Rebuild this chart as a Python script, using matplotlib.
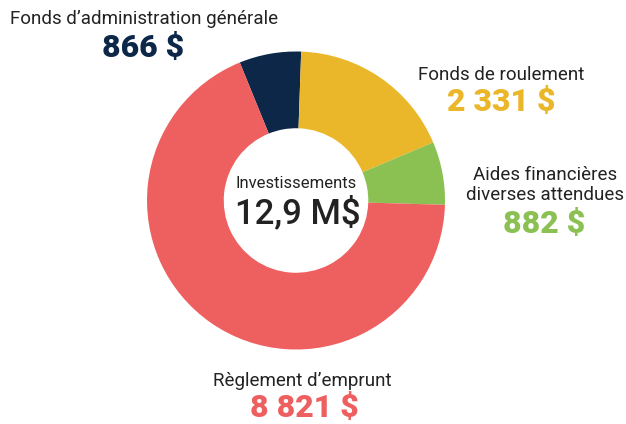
import matplotlib
matplotlib.use("Agg")
import matplotlib.pyplot as plt

categories = ["Fonds d\u2019administration générale", "Fonds de roulement",
              "Aides financières\ndiverses attendues", "Règlement d\u2019emprunt"]
values = [866, 2331, 882, 8821]
value_labels = ["866 $", "2 331 $", "882 $", "8 821 $"]
colors = ["#0d2748", "#ebb72a", "#8bc153", "#ee5f5f"]
center_title = "Investissements"
center_value = "12,9 M$"

W, H = 626, 424
fig = plt.figure(figsize=(W / 100, H / 100), dpi=100)
plt.rcParams['font.family'] = ['Roboto', 'DejaVu Sans']

cx, cy, r = 296, 200.5, 149
ax = fig.add_axes([(cx - r) / W, (H - cy - r) / H, 2 * r / W, 2 * r / H])
total = sum(values)
start = 88 + values[0] / total * 360
ax.pie(values, colors=colors, startangle=start, counterclock=False, radius=1,
       wedgeprops=dict(width=0.515, edgecolor='none'))
ax.set_xlim(-1, 1)
ax.set_ylim(-1, 1)
ax.set_aspect('equal')
ax.axis('off')

def t(x, y, s, **kw):
    fig.text(x / W, 1 - y / H, s, ha='center', va='center', **kw)

label_color = "#222222"
name_pos = [(144, 19), (501, 75), (545, 185), (302, 381)]
val_pos = [(143, 48), (501, 102), (544, 224), (304, 408)]
for i in range(len(values)):
    t(*name_pos[i], categories[i], fontsize=13.5, color=label_color, linespacing=1.17)
    t(*val_pos[i], value_labels[i], fontsize=23, fontweight='heavy', color=colors[i])

t(296, 184, center_title, fontsize=12, color=label_color)
t(298, 213, center_value, fontsize=25, fontweight='medium', color=label_color)

fig.savefig("out.png", dpi=100)
